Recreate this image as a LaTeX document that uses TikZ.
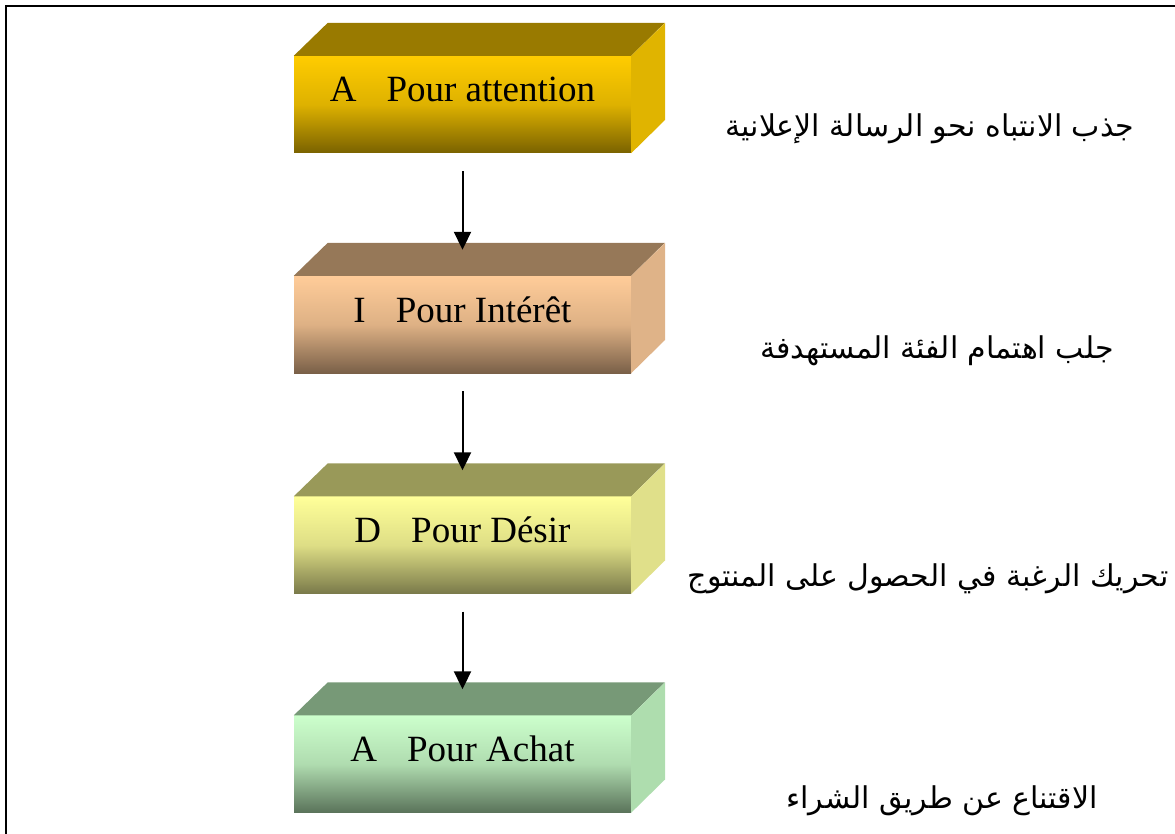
\documentclass[tikz,border=0pt]{standalone}
\usepackage{fontspec}
\setmainfont{Liberation Serif}
\newfontfamily\arabicfont[Script=Arabic]{DejaVu Sans}
\TeXXeTstate=1
\usetikzlibrary{arrows.meta}

\definecolor{gold}{HTML}{FFCC00}
\definecolor{golddark}{HTML}{7A6200}
\definecolor{goldtop}{HTML}{997A00}
\definecolor{goldside}{HTML}{E0B400}
\definecolor{peach}{HTML}{FFCC99}
\definecolor{peachdark}{HTML}{7A6048}
\definecolor{peachtop}{HTML}{967858}
\definecolor{peachside}{HTML}{DFB388}
\definecolor{lemon}{HTML}{FFFF99}
\definecolor{lemondark}{HTML}{7A7A4A}
\definecolor{lemontop}{HTML}{999959}
\definecolor{lemonside}{HTML}{E0E08A}
\definecolor{mint}{HTML}{CCFFCC}
\definecolor{mintdark}{HTML}{5A735A}
\definecolor{minttop}{HTML}{779977}
\definecolor{mintside}{HTML}{AEDDAE}

\tikzset{
  front/.style={minimum width=337pt, minimum height=97pt, inner sep=0pt,
    text height=26pt, text depth=31pt, font=\fontsize{37}{44}\selectfont},
  flow/.style={line width=2pt, -{Triangle[width=17pt,length=18pt]},
    shorten <=18pt, shorten >=26pt},
  caption/.style={font=\arabicfont\fontsize{30}{36}\selectfont}
}

% top and side faces of a box, #1 = front node
\newcommand{\boxfaces}[3]{%
  \fill[#2] (#1.north west) -- ++(34,-33) -- ++(337,0) -- (#1.north east) -- cycle;
  \fill[#3] (#1.north east) -- ++(34,-33) -- ++(0,97) -- (#1.south east) -- cycle;
}

\begin{document}
\begin{tikzpicture}[x=1pt,y=-1pt]
  \useasboundingbox (0,0) rectangle (1175,834);
  \draw[line width=2pt] (1175,6) -- (6,6) -- (6,834);

  \node[front, top color=gold, bottom color=golddark, middle color=gold!75!golddark]
    (attention) at (462.5,104.5) {A\hspace{30pt}Pour attention};
  \boxfaces{attention}{goldtop}{goldside}
  \node[front, top color=peach, bottom color=peachdark, middle color=peach!75!peachdark]
    (interet) at (462.5,324.5) {I\hspace{30pt}Pour Intérêt};
  \boxfaces{interet}{peachtop}{peachside}
  \node[front, top color=lemon, bottom color=lemondark, middle color=lemon!75!lemondark]
    (desir) at (462.5,545) {D\hspace{30pt}Pour Désir};
  \boxfaces{desir}{lemontop}{lemonside}
  \node[front, top color=mint, bottom color=mintdark, middle color=mint!75!mintdark]
    (achat) at (462.5,764) {A\hspace{30pt}Pour Achat};
  \boxfaces{achat}{minttop}{mintside}

  \draw[flow] (attention) -- (interet);
  \draw[flow] (interet) -- (desir);
  \draw[flow] (desir) -- (achat);

  \node[caption] (cattention) at (930,129) {\beginR جذب الانتباه نحو الرسالة الإعلانية\endR};
  \node[caption] (cinteret) at (937,351) {\beginR جلب اهتمام الفئة المستهدفة\endR};
  \node[caption] (cdesir) at (928,579) {\beginR تحريك الرغبة في الحصول على المنتوج\endR};
  \node[caption] (cachat) at (942,801) {\beginR الاقتناع عن طريق الشراء\endR};
\end{tikzpicture}
\end{document}
